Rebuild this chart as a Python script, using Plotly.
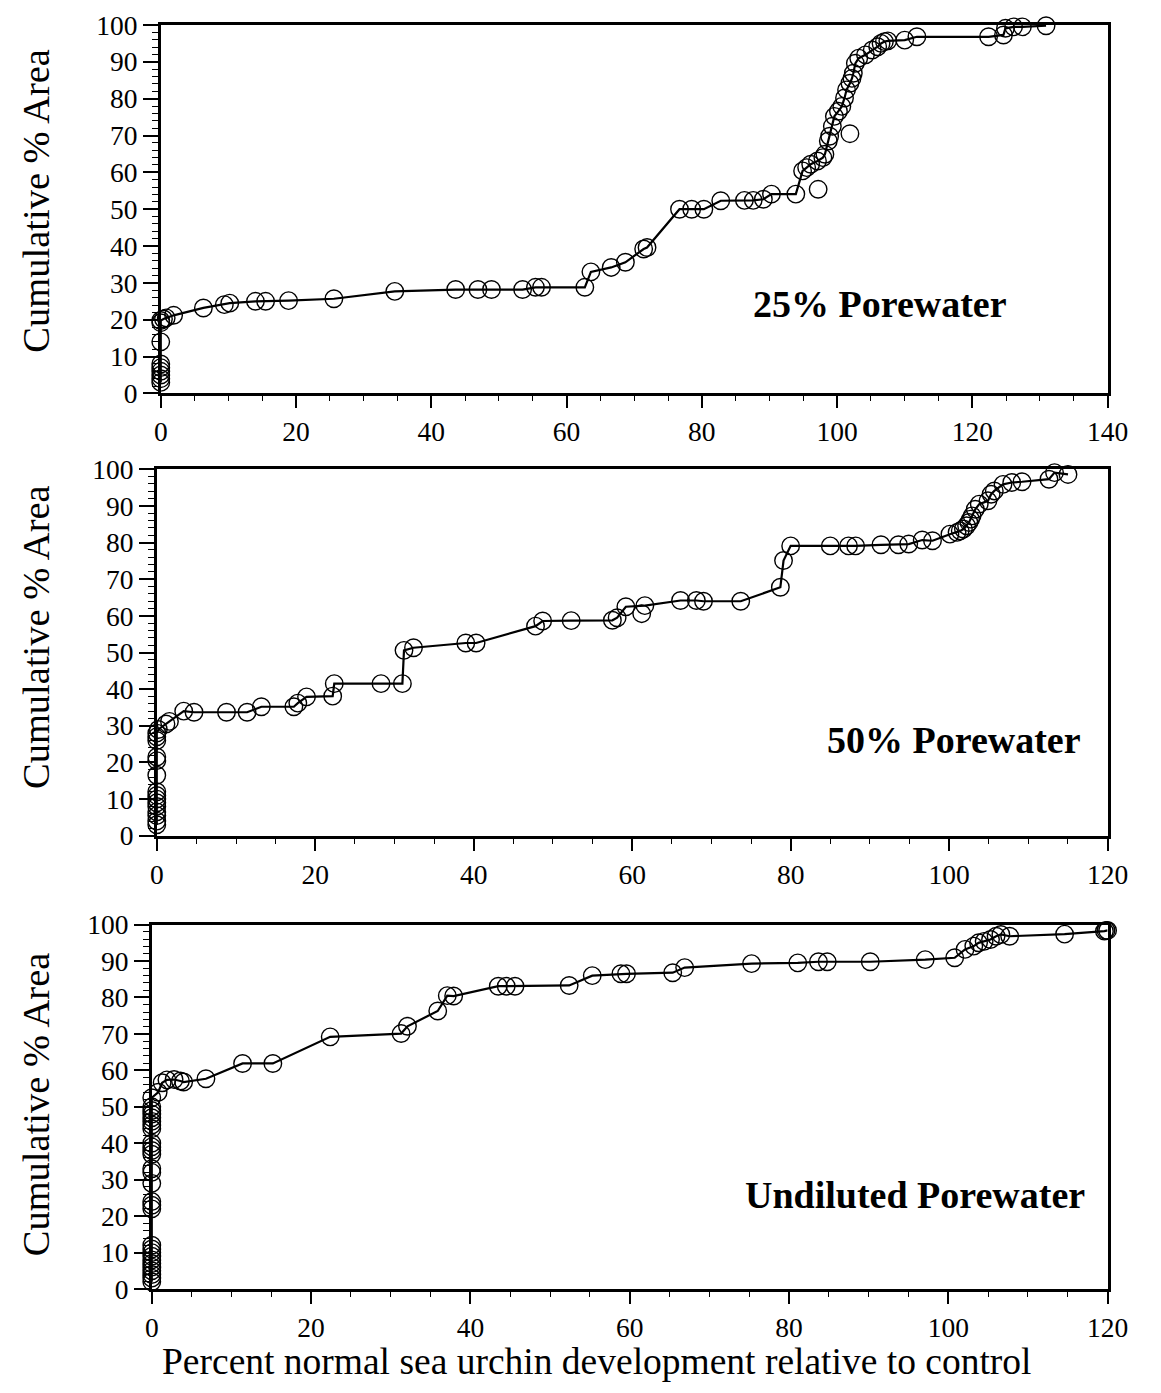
import plotly.graph_objects as go

# ---------------- data ----------------
# Panel 1: 25% Porewater
p25_x = [0, 0, 0, 0, 0, 0, 0, 0, 0, 0.4, 0.8, 1.9, 6.3, 9.4, 10.2, 14.0, 15.5, 18.9, 25.6, 34.6,
         43.6, 46.9, 48.9, 53.5, 55.4, 56.3, 62.7, 63.6, 66.6, 68.7, 71.4, 71.9, 76.7, 78.5,
         80.3, 82.8, 86.3, 87.6, 89.1, 90.3, 93.9, 94.9, 95.5, 96.1, 97.1, 97.9, 98.2, 98.7, 98.9,
         99.3, 99.6, 100.2, 100.7, 101.1, 101.4, 101.9, 102.2, 102.4, 102.7, 103.2, 104.2,
         105.2, 106.0, 106.5, 107.0, 107.5, 110.0, 111.8, 122.4, 124.6, 124.9, 126.1, 127.4, 130.9]
p25_y = [3, 4, 5, 6, 7, 8, 14, 19.2, 19.8, 20.2, 20.5, 21.2, 23.2, 24.1, 24.5, 25.0, 25.0, 25.2, 25.7, 27.7,
         28.2, 28.2, 28.2, 28.2, 28.8, 28.8, 28.8, 33.0, 34.2, 35.6, 39.2, 39.6, 50.0, 50.0,
         50.0, 52.3, 52.4, 52.4, 52.7, 54.1, 54.1, 60.4, 61.3, 62.2, 63.1, 64.0, 64.9, 68.5, 69.8,
         72.5, 75.2, 76.6, 77.9, 80.2, 82.4, 84.2, 85.5, 86.9, 89.6, 91.0, 91.9,
         93.2, 94.1, 95.0, 95.5, 95.7, 95.9, 96.8, 96.8, 97.3, 99.1, 99.5, 99.5, 99.8]
p25_out_x = [97.2, 101.9]
p25_out_y = [55.4, 70.5]

# Panel 2: 50% Porewater
p50_x = [0, 0, 0, 0, 0, 0, 0, 0, 0, 0, 0, 0, 0, 0, 0, 0.2, 1.16, 1.6, 3.4, 4.7, 8.8, 11.4, 13.2,
         17.3, 17.8, 18.9, 22.2, 22.4, 28.3, 31.0, 31.2, 32.4, 39.0, 40.3, 47.8, 48.7, 52.3, 57.5,
         58.1, 59.2, 61.6, 66.1, 68.1, 69.0, 73.7, 78.7, 79.1, 80.0, 85.0, 87.3, 88.2, 91.4, 93.6,
         94.9, 96.6, 97.9, 100.1, 101.0, 101.4, 101.8, 102.2, 102.5, 102.7, 102.9, 103.3, 103.8,
         104.9, 105.3, 105.7, 106.8, 107.9, 109.2, 112.6, 113.3, 115.0]
p50_y = [3, 4, 5.5, 6.5, 8, 9, 10, 11, 12, 16.5, 20.5, 21.5, 26, 27, 28, 29, 30.5, 31.2, 34.0, 33.7,
         33.7, 33.7, 35.2, 35.2, 36.2, 37.9, 38.1, 41.5, 41.5, 41.5, 50.6, 51.3, 52.6, 52.6, 57.2,
         58.6, 58.7, 58.8, 59.5, 62.5, 62.8, 64.2, 64.2, 64.0, 64.0, 67.8, 75.1, 79.1, 79.1, 79.1,
         79.1, 79.4, 79.4, 79.6, 80.7, 80.5, 82.3, 82.8, 83.2, 83.7, 84.6, 85.5, 86.4, 87.3, 89.1,
         90.5, 91.4, 93.2, 94.1, 95.9, 96.4, 96.6, 97.3, 99.1, 98.6]
p50_out_x = [61.2]
p50_out_y = [60.6]

# Panel 3: Undiluted Porewater
pud_x = [0, 0, 0, 0, 0, 0, 0, 0, 0, 0, 0, 0, 0, 0, 0, 0, 0, 0, 0, 0, 0, 0, 0, 0, 0, 0, 0, 0, 0,
         0.8, 1.3, 1.9, 2.8, 3.6, 4.0, 6.8, 11.4, 15.2, 22.4, 31.3, 32.1, 35.9, 37.1, 37.9, 43.5,
         44.5, 45.6, 52.4, 55.3, 58.9, 59.6, 65.4, 66.9, 75.3, 81.1, 83.7, 84.8, 90.2, 97.1, 100.8,
         102.1, 103.2, 103.8, 104.5, 105.3, 106.0, 106.6, 107.7, 114.6, 119.6, 119.8, 120.0]
pud_y = [2, 3, 4, 5, 6, 7, 8, 9, 10, 11, 12, 22, 23, 24, 29, 32, 33, 37, 38, 39, 40, 44, 45, 46,
         47, 48, 49, 50, 52.5, 54.0, 56.6, 57.4, 57.5, 57.1, 56.8, 57.7, 61.9, 61.9, 69.2, 70.1,
         72.1, 76.3, 80.5, 80.4, 83.1, 83.1, 83.1, 83.3, 86.0, 86.5, 86.5, 86.8, 88.2, 89.3, 89.5,
         89.8, 89.8, 89.8, 90.4, 90.9, 93.2, 94.1, 95.0, 95.4, 95.9, 96.8, 97.3, 96.8, 97.4, 98.2,
         98.4, 98.4]

panel_labels = ["25% Porewater", "50% Porewater", "Undiluted Porewater"]
x_tick_vals = [[0, 20, 40, 60, 80, 100, 120, 140],
               [0, 20, 40, 60, 80, 100, 120],
               [0, 20, 40, 60, 80, 100, 120]]
x_ranges = [[0, 140], [0, 120], [0, 120]]
y_tick_vals = [0, 10, 20, 30, 40, 50, 60, 70, 80, 90, 100]
y_title = "Cumulative % Area"
x_title = "Percent normal sea urchin development relative to control"

# ---------------- figure ----------------
W, H = 1145, 1377
FONT = "Liberation Serif, Times New Roman, serif"
PAGE_OFF = 8.0                 # body margin of the html page
SX, OX = 0.977, 6.2            # measured horizontal mapping page -> picture
SY, OY = 0.979, 22.0           # measured vertical mapping figure -> picture
RIGHT_MAX = 1128.0             # keep the right-most tick labels inside the figure


def fx(obs, clamp=False):
    page = (obs - OX) / SX
    if clamp:
        page = min(page, RIGHT_MAX)
    return (page - PAGE_OFF) / W


def fy(obs):
    return 1 - ((obs - OY) / SY) / H


# picture-pixel boxes of the three plotting areas (left, right, top, bottom)
boxes = [(160, 1131, 24, 393), (156, 1125, 469, 836), (151, 1121, 925, 1290)]
label_pos = [(880, 303), (954, 740), (915, 1196)]
ytitle_pos = [200, 637, 1105]

series = [(p25_x, p25_y, p25_out_x, p25_out_y),
          (p50_x, p50_y, p50_out_x, p50_out_y),
          (pud_x, pud_y, [], [])]

fig = go.Figure()
marker = dict(symbol="circle-open", size=17.5, color="black", line=dict(width=1.4, color="black"))
for i, (sx, sy, ox, oy) in enumerate(series):
    ax = "" if i == 0 else str(i + 1)
    fig.add_trace(go.Scatter(x=sx, y=sy, mode="lines+markers",
                             line=dict(color="black", width=2.2),
                             marker=marker, cliponaxis=False, showlegend=False,
                             xaxis="x" + ax, yaxis="y" + ax))
    if ox:
        fig.add_trace(go.Scatter(x=ox, y=oy, mode="markers", marker=marker,
                                 cliponaxis=False, showlegend=False,
                                 xaxis="x" + ax, yaxis="y" + ax))

layout = dict(width=W, height=H, margin=dict(l=0, r=0, t=0, b=0),
              paper_bgcolor="white", plot_bgcolor="white", showlegend=False,
              font=dict(family=FONT, color="black"))
annotations = []
for i, (l, r, t, b) in enumerate(boxes):
    ax = "" if i == 0 else str(i + 1)
    layout["xaxis" + ax] = dict(
        domain=[fx(l), fx(r, clamp=True)], range=x_ranges[i], anchor="y" + ax,
        tickvals=x_tick_vals[i], ticks="outside", ticklen=12, tickwidth=2, tickcolor="black",
        minor=dict(ticks="outside", ticklen=5, tickwidth=1.3, tickcolor="black", dtick=5, tick0=0),
        showline=True, linewidth=2.6, linecolor="black", mirror=True,
        showgrid=False, zeroline=False, tickfont=dict(family=FONT, size=27.5, color="black"))
    layout["yaxis" + ax] = dict(
        domain=[fy(b), fy(t)], range=[0, 100], anchor="x" + ax,
        tickvals=y_tick_vals, ticks="outside", ticklen=15, tickwidth=2, tickcolor="black",
        minor=dict(ticks="outside", ticklen=6, tickwidth=1.3, tickcolor="black", dtick=2, tick0=0),
        showline=True, linewidth=2.6, linecolor="black", mirror=True,
        showgrid=False, zeroline=False, tickfont=dict(family=FONT, size=27.5, color="black"))
    lx, ly = label_pos[i]
    annotations.append(dict(text="<b>" + panel_labels[i] + "</b>", x=fx(lx), y=fy(ly),
                            xref="paper", yref="paper", showarrow=False,
                            xanchor="center", yanchor="middle",
                            font=dict(family=FONT, size=38, color="black")))
    annotations.append(dict(text=y_title, x=fx(35), y=fy(ytitle_pos[i]),
                            xref="paper", yref="paper", showarrow=False, textangle=-90,
                            xanchor="center", yanchor="middle",
                            font=dict(family=FONT, size=38.5, color="black")))
annotations.append(dict(text=x_title, x=fx(596), y=fy(1363), xref="paper", yref="paper",
                        showarrow=False, xanchor="center", yanchor="middle",
                        font=dict(family=FONT, size=37.5, color="black")))
layout["annotations"] = annotations
fig.update_layout(**layout)

fig.write_html("out.html", config={"displayModeBar": False})
